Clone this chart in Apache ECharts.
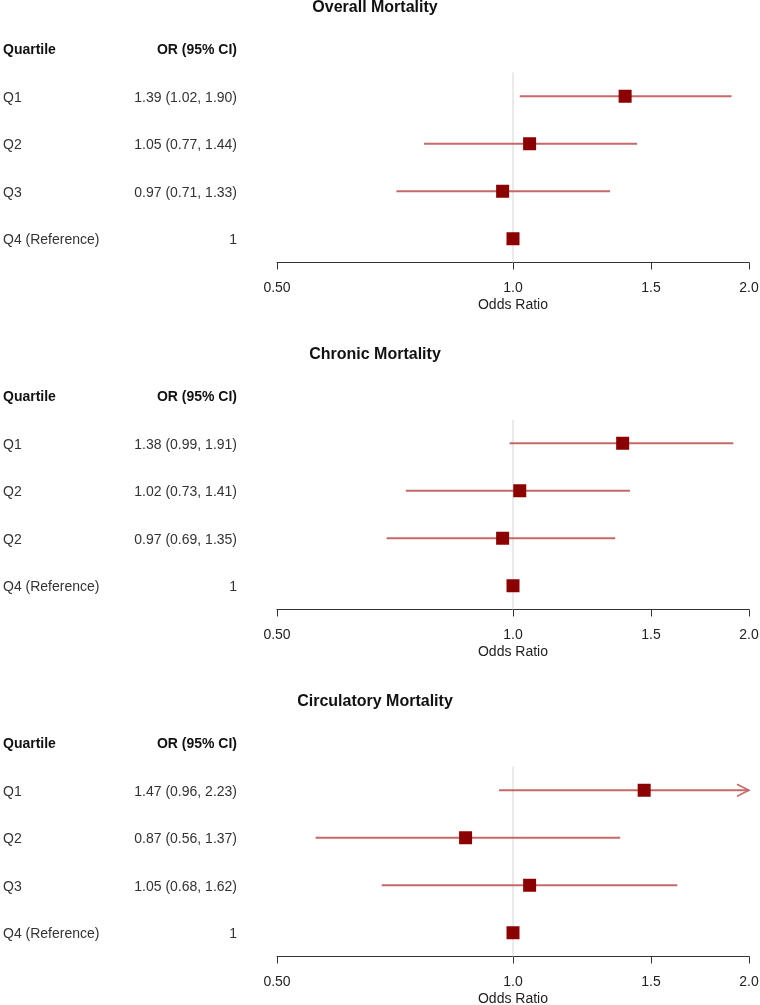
<!DOCTYPE html>
<html><head><meta charset="utf-8">
<script src="https://cdn.jsdelivr.net/npm/echarts@6/dist/echarts.min.js"></script>
<style>html,body{margin:0;padding:0;background:#fff}#c{width:760px;height:1005px}</style>
</head><body><div id="c"></div>
<script>
// ---- data ----
const panelTitles = ['Overall Mortality', 'Chronic Mortality', 'Circulatory Mortality'];
const headerLabels = ['Quartile', 'OR (95% CI)'];
const rowLabelsOverall = ['Q1', 'Q2', 'Q3', 'Q4 (Reference)'];
const rowLabelsChronic = ['Q1', 'Q2', 'Q2', 'Q4 (Reference)'];
const rowLabelsCirculatory = ['Q1', 'Q2', 'Q3', 'Q4 (Reference)'];
const orOverall = [1.39, 1.05, 0.97, 1];
const lowOverall = [1.02, 0.77, 0.71, null];
const upOverall = [1.90, 1.44, 1.33, null];
const orChronic = [1.38, 1.02, 0.97, 1];
const lowChronic = [0.99, 0.73, 0.69, null];
const upChronic = [1.91, 1.41, 1.35, null];
const orCirculatory = [1.47, 0.87, 1.05, 1];
const lowCirculatory = [0.96, 0.56, 0.68, null];
const upCirculatory = [2.23, 1.37, 1.62, null];
const refValue = 1;
const axisMin = 0.5, axisMax = 2;
const tickValues = [0.5, 1, 1.5, 2];
const tickLabels = ['0.50', '1.0', '1.5', '2.0'];
const axisName = 'Odds Ratio';

const panels = [
  {title: panelTitles[0], rows: rowLabelsOverall, or: orOverall, low: lowOverall, up: upOverall},
  {title: panelTitles[1], rows: rowLabelsChronic, or: orChronic, low: lowChronic, up: upChronic},
  {title: panelTitles[2], rows: rowLabelsCirculatory, or: orCirculatory, low: lowCirculatory, up: upCirculatory}
];

// ---- styles ----
const FONT = '"Liberation Sans", Arial, Helvetica, sans-serif';
const ciColor = '#c46868';
const boxColor = '#8b0000';
const refColor = '#d6d6d6';
const panelStep = 347;
const gridTop = 25, gridH = 237.5;

function orText(p, i) {
  if (p.low[i] == null) return String(p.or[i]);
  return p.or[i].toFixed(2) + ' (' + p.low[i].toFixed(2) + ', ' + p.up[i].toFixed(2) + ')';
}

const option = {
  animation: false,
  textStyle: {fontFamily: FONT},
  title: [], grid: [], xAxis: [], yAxis: [], series: []
};

panels.forEach((p, k) => {
  const off = k * panelStep;
  const cats = ['h'].concat(p.rows.map((_, i) => 'r' + i));
  option.title.push({
    text: p.title, left: 370, top: off - 5, textAlign: 'center',
    textStyle: {fontFamily: FONT, fontSize: 16, fontWeight: 'bold', color: '#111'}
  });
  option.grid.push({left: 277, right: 11, top: off + gridTop, height: gridH, outerBoundsMode: 'none', containLabel: false});
  option.xAxis.push({
    type: 'log', logBase: 2, min: axisMin, max: axisMax, gridIndex: k,
    axisLine: {show: true, lineStyle: {color: '#333', width: 1}},
    axisTick: {show: true, length: 7, customValues: tickValues, lineStyle: {color: '#333', width: 1}},
    minorTick: {show: false},
    splitLine: {show: false},
    axisLabel: {
      customValues: tickValues, showMinLabel: true, showMaxLabel: true,
      margin: 19, fontSize: 14, color: '#222', fontFamily: FONT,
      formatter: function (v) {
        let best = 0;
        tickValues.forEach((t, j) => { if (Math.abs(t - v) < Math.abs(tickValues[best] - v)) best = j; });
        return tickLabels[best];
      }
    },
    name: axisName, nameLocation: 'middle', nameGap: 36,
    nameTextStyle: {fontSize: 14, color: '#222', fontFamily: FONT}
  });
  option.yAxis.push({
    type: 'category', data: cats, inverse: true, gridIndex: k,
    axisLine: {show: false}, axisTick: {show: false}, splitLine: {show: false},
    axisLabel: {
      margin: 40, interval: 0,
      formatter: function (val, idx) {
        if (idx === 0) return '{qh|' + headerLabels[0] + '}{orh|' + headerLabels[1] + '}';
        return '{q|' + p.rows[idx - 1] + '}{or|' + orText(p, idx - 1) + '}';
      },
      rich: {
        qh: {width: 130, align: 'left', fontSize: 14, fontWeight: 'bold', color: '#111', fontFamily: FONT, padding: [3, 0, 0, 0]},
        orh: {width: 104, align: 'right', fontSize: 14, fontWeight: 'bold', color: '#111', fontFamily: FONT, padding: [3, 0, 0, 0]},
        q: {width: 130, align: 'left', fontSize: 14, color: '#333', fontFamily: FONT, padding: [3, 0, 0, 0]},
        or: {width: 104, align: 'right', fontSize: 14, color: '#333', fontFamily: FONT, padding: [3, 0, 0, 0]}
      }
    }
  });
  // reference line
  option.series.push({
    type: 'custom', xAxisIndex: k, yAxisIndex: k, silent: true, z: 1,
    data: [[refValue, 1]], encode: {x: 0, y: 1},
    renderItem: function (params, api) {
      const c = api.coord([api.value(0), api.value(1)]);
      const bh = api.size([0, 1])[1];
      const cs = params.coordSys;
      return {type: 'line', shape: {x1: c[0], y1: c[1] - bh / 2, x2: c[0], y2: cs.y + cs.height},
        style: {stroke: refColor, lineWidth: 1}};
    }
  });
  // CI lines
  const ciData = [];
  p.or.forEach((v, i) => { if (p.low[i] != null) ciData.push([p.low[i], i + 1, p.up[i]]); });
  option.series.push({
    type: 'custom', xAxisIndex: k, yAxisIndex: k, silent: true, z: 2,
    data: ciData, encode: {x: [0, 2], y: 1},
    renderItem: function (params, api) {
      const lo = api.value(0), row = api.value(1), hi = api.value(2);
      const a = api.coord([Math.max(lo, axisMin), row]);
      const b = api.coord([Math.min(hi, axisMax), row]);
      const ch = [{type: 'line', shape: {x1: a[0], y1: a[1], x2: b[0], y2: b[1]},
        style: {stroke: ciColor, lineWidth: 2}}];
      if (hi > axisMax) {
        ch.push({type: 'polyline', shape: {points: [[b[0] - 12, b[1] - 6], [b[0], b[1]], [b[0] - 12, b[1] + 6]]},
          style: {stroke: ciColor, lineWidth: 1.5, fill: null}});
      }
      return {type: 'group', children: ch};
    }
  });
  // point estimates
  option.series.push({
    type: 'scatter', xAxisIndex: k, yAxisIndex: k, silent: true, z: 3,
    symbol: 'rect', symbolSize: 13,
    itemStyle: {color: boxColor, opacity: 1},
    data: p.or.map((v, i) => [v, i + 1])
  });
});

const chart = echarts.init(document.getElementById('c'), null, {renderer: 'canvas'});
chart.setOption(option);
</script>
</body></html>
